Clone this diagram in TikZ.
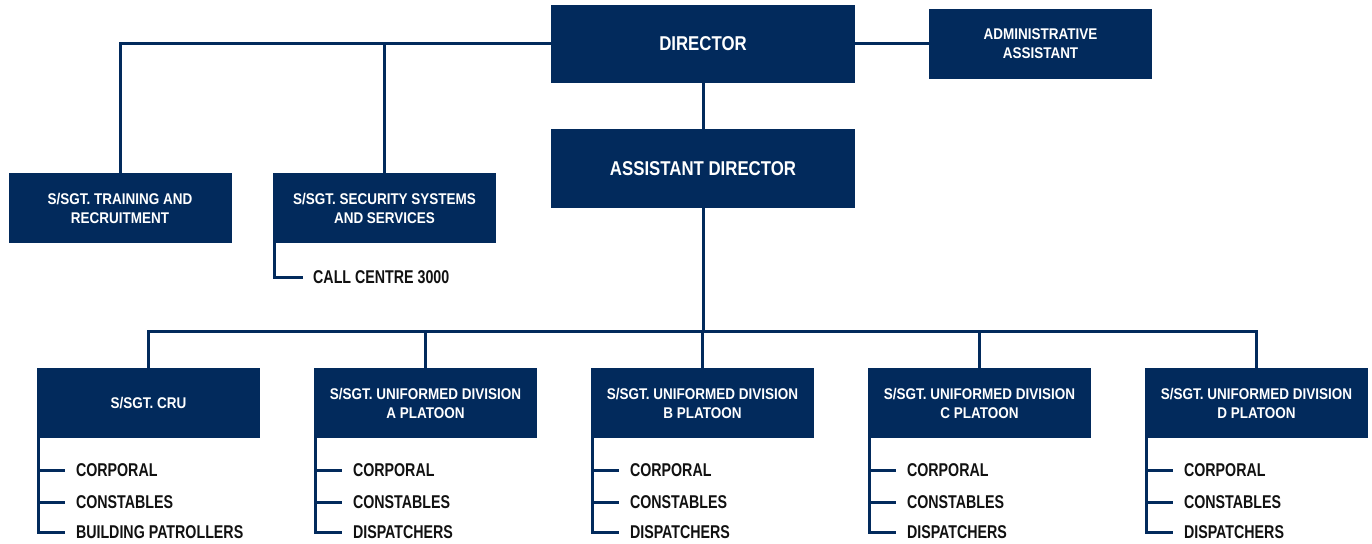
\documentclass[tikz,border=0pt]{standalone}
\usepackage{fontspec}
\setmainfont{Liberation Sans}[FakeStretch=0.87]
\newfontfamily\listfont{Liberation Sans}[FakeStretch=0.77]
\newfontfamily\bigfont{Liberation Sans}[FakeStretch=0.84]
\usetikzlibrary{calc}
\definecolor{navy}{RGB}{2,42,92}
\definecolor{ink}{RGB}{17,17,17}
\begin{document}
\begin{tikzpicture}[x=1pt,y=-1pt,
  box/.style={fill=navy,text=white,font=\fontsize{15.5}{19}\selectfont\bfseries,align=center,minimum width=223pt,minimum height=70pt,inner sep=0pt},
  bigbox/.style={box,minimum width=304pt,minimum height=78pt,font=\bigfont\fontsize{20}{23}\selectfont\bfseries},
  item/.style={anchor=west,inner sep=0pt,text=ink,font=\listfont\fontsize{18.5}{20}\selectfont\bfseries},
  conn/.style={draw=navy,line width=3pt}]
\useasboundingbox (0,0) rectangle (1372,543);
% top level
\node[bigbox] (dir) at (703,44) {DIRECTOR};
\node[box] (admin) at (1040.5,44) {ADMINISTRATIVE\\ASSISTANT};
\node[bigbox,minimum height=79pt] (asst) at (703,168.5) {ASSISTANT DIRECTOR};
\node[box] (train) at (120,208) {S/SGT. TRAINING AND\\RECRUITMENT};
\node[box] (sec) at (384.5,208) {S/SGT. SECURITY SYSTEMS\\AND SERVICES};
\node[item] (call) at (313,277) {CALL CENTRE 3000};
\draw[conn] (train.north) |- (dir.west);
\draw[conn] (sec.north) -- (sec.north |- dir.west);
\draw[conn] (dir.east) -- (admin.west);
\draw[conn] (dir.south) -- (asst.north);
\draw[conn] ($(sec.south west)+(1.5,0)$) |- ([xshift=-10]call.west);
% bus
\coordinate (bus) at (703,331);
\draw[conn] (asst.south) -- (bus);
% bottom boxes
\foreach \n/\x/\t/\c in {cru/148.5/{S/SGT. CRU}/BUILDING PATROLLERS,
                          a/425.5/{S/SGT. UNIFORMED DIVISION\\A PLATOON}/DISPATCHERS,
                          b/702.5/{S/SGT. UNIFORMED DIVISION\\B PLATOON}/DISPATCHERS,
                          c/979.5/{S/SGT. UNIFORMED DIVISION\\C PLATOON}/DISPATCHERS,
                          d/1256.5/{S/SGT. UNIFORMED DIVISION\\D PLATOON}/DISPATCHERS}{
  \node[box] (\n) at (\x,403) {\t};
  \draw[conn] (bus) -| (\n.north);
  \coordinate (\n v) at ($(\n.south west)+(1.5,0)$);
  \node[item] (\n1) at ($(\n.south west)+(39,32)$) {CORPORAL};
  \node[item] (\n2) at ($(\n.south west)+(39,64)$) {CONSTABLES};
  \node[item] (\n3) at ($(\n.south west)+(39,94)$) {\c};
  \draw[conn] (\n v) |- ([xshift=-11]\n3.west);
  \draw[conn] (\n1.west -| \n v) -- ([xshift=-11]\n1.west);
  \draw[conn] (\n2.west -| \n v) -- ([xshift=-11]\n2.west);
}
\end{tikzpicture}
\end{document}
